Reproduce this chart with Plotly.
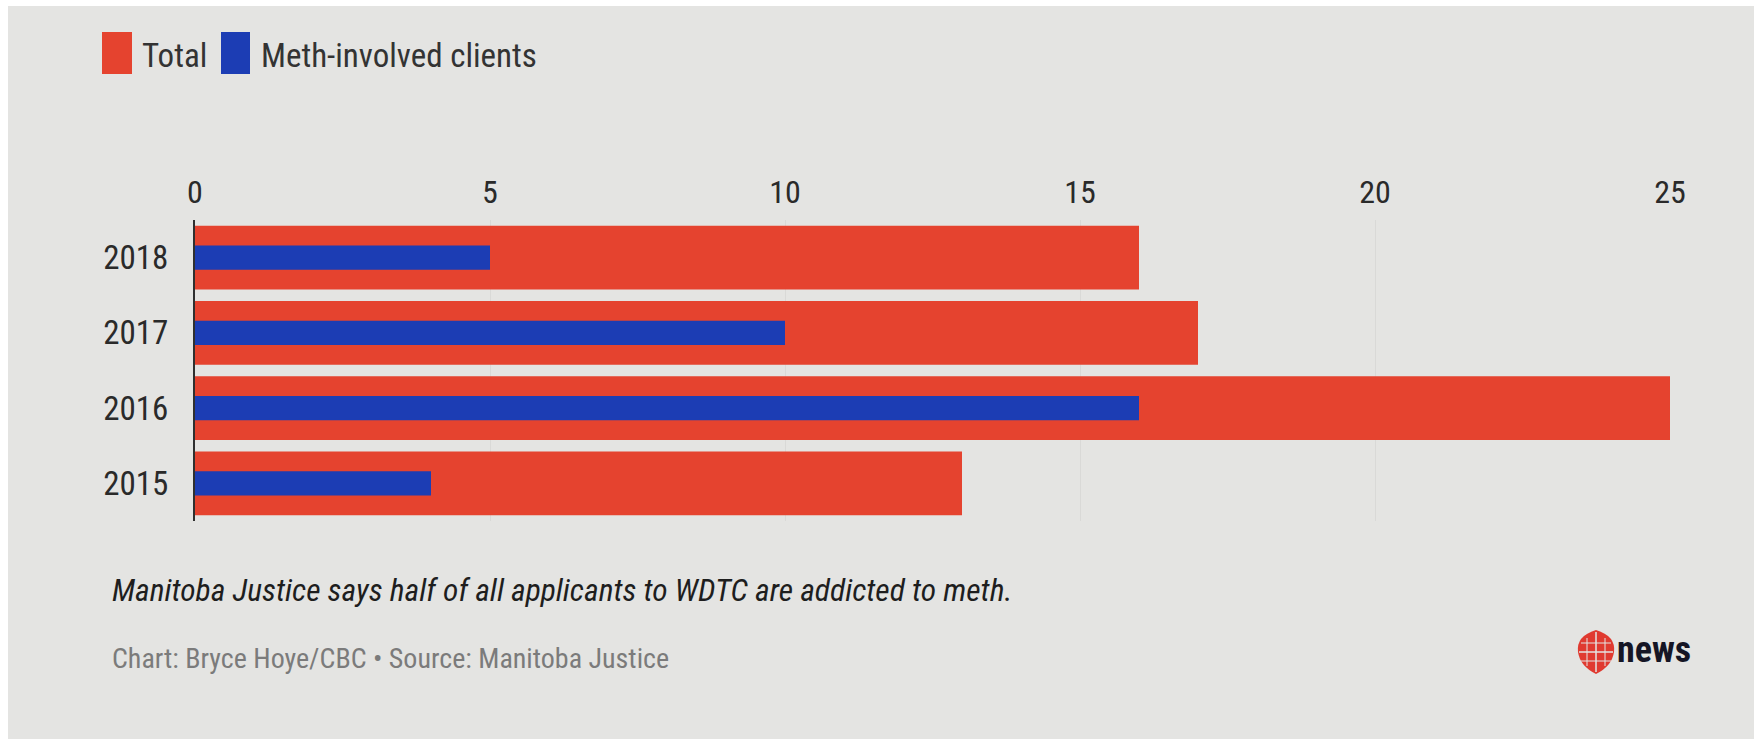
import plotly.graph_objects as go

# ---- data ----
years = ["2015", "2016", "2017", "2018"]
total = [13, 25, 17, 16]
meth = [4, 16, 10, 5]
series_names = ["Total", "Meth-involved clients"]
x_ticks = [0, 5, 10, 15, 20, 25]
caption = "Manitoba Justice says half of all applicants to WDTC are addicted to meth."
source = "Chart: Bryce Hoye/CBC \u2022 Source: Manitoba Justice"

# ---- style ----
W, H = 1754, 739
L, R, T, B = 195, 84, 220, 218
PW, PH = W - L - R, H - T - B
RED, BLUE = "#e5432f", "#1c3db4"
BG = "#e4e4e2"
FONT = "Liberation Sans Narrow, Roboto Condensed, DejaVu Sans Condensed, Liberation Sans, sans-serif"


def px(x):
    return (x - L) / PW


def py(y):
    return (H - B - y) / PH


fig = go.Figure()
fig.add_trace(go.Bar(y=years, x=total, orientation="h", name=series_names[0],
                     marker=dict(color=RED, line=dict(width=0)), width=0.85))
fig.add_trace(go.Bar(y=years, x=meth, orientation="h", name=series_names[1],
                     marker=dict(color=BLUE, line=dict(width=0)), width=0.32))

gx0, gx1, gy0, gy1 = 1578, 1614, 630, 674
gcx, gcy = (gx0 + gx1) / 2, (gy0 + gy1) / 2
gem_path = (f"M {px(gcx)},{py(gy0)} "
            f"Q {px(gx1 + 2)},{py(gy0 + 6)} {px(gx1)},{py(gcy)} "
            f"Q {px(gx1 - 2)},{py(gy1 - 8)} {px(gcx)},{py(gy1)} "
            f"Q {px(gx0 + 2)},{py(gy1 - 8)} {px(gx0)},{py(gcy)} "
            f"Q {px(gx0 - 2)},{py(gy0 + 6)} {px(gcx)},{py(gy0)} Z")

shapes = [
    # white photo border strips
    dict(type="rect", xref="paper", yref="paper", x0=px(0), x1=px(W), y0=py(0), y1=py(6),
         fillcolor="white", line=dict(width=0), layer="above"),
    dict(type="rect", xref="paper", yref="paper", x0=px(0), x1=px(8), y0=py(0), y1=py(H),
         fillcolor="white", line=dict(width=0), layer="above"),
    # legend swatches
    dict(type="rect", xref="paper", yref="paper", x0=px(102), x1=px(132), y0=py(74), y1=py(32),
         fillcolor=RED, line=dict(width=0)),
    dict(type="rect", xref="paper", yref="paper", x0=px(221), x1=px(250), y0=py(74), y1=py(32),
         fillcolor=BLUE, line=dict(width=0)),
    # CBC gem (approximation)
    dict(type="path", xref="paper", yref="paper", path=gem_path,
         fillcolor="#e03a30", line=dict(width=0)),
    dict(type="line", xref="paper", yref="paper", x0=px(gcx), x1=px(gcx), y0=py(gy1 - 2), y1=py(gy0 + 2),
         line=dict(color=BG, width=1.5)),
    dict(type="line", xref="paper", yref="paper", x0=px(gx0 + 1), x1=px(gx1 - 1), y0=py(gcy), y1=py(gcy),
         line=dict(color=BG, width=1.5)),
    dict(type="line", xref="paper", yref="paper", x0=px(gx0 + 3), x1=px(gx1 - 3), y0=py(gcy - 9), y1=py(gcy - 9),
         line=dict(color=BG, width=1)),
    dict(type="line", xref="paper", yref="paper", x0=px(gx0 + 3), x1=px(gx1 - 3), y0=py(gcy + 9), y1=py(gcy + 9),
         line=dict(color=BG, width=1)),
    dict(type="line", xref="paper", yref="paper", x0=px(gcx - 9), x1=px(gcx - 9), y0=py(gy1 - 8), y1=py(gy0 + 8),
         line=dict(color=BG, width=1)),
    dict(type="line", xref="paper", yref="paper", x0=px(gcx + 9), x1=px(gcx + 9), y0=py(gy1 - 8), y1=py(gy0 + 8),
         line=dict(color=BG, width=1)),
]

annotations = [
    dict(text=series_names[0], x=px(140), y=py(55), xref="paper", yref="paper",
         xanchor="left", yanchor="middle", showarrow=False,
         font=dict(family=FONT, size=33, color="#333333")),
    dict(text=series_names[1], x=px(259), y=py(55), xref="paper", yref="paper",
         xanchor="left", yanchor="middle", showarrow=False,
         font=dict(family=FONT, size=33, color="#333333")),
    dict(text="<i>" + caption + "</i>", x=px(110), y=py(590), xref="paper", yref="paper",
         xanchor="left", yanchor="middle", showarrow=False,
         font=dict(family=FONT, size=31.5, color="#1e1e1e")),
    dict(text=source, x=px(110), y=py(658), xref="paper", yref="paper",
         xanchor="left", yanchor="middle", showarrow=False,
         font=dict(family=FONT, size=28, color="#7b7b7b")),
    dict(text="<b>news</b>", x=px(1615), y=py(650), xref="paper", yref="paper",
         xanchor="left", yanchor="middle", showarrow=False,
         font=dict(family=FONT, size=36, color="#151525")),
]

fig.update_layout(
    width=W, height=H,
    margin=dict(l=L, r=R, t=T, b=B, pad=0),
    paper_bgcolor=BG, plot_bgcolor=BG,
    barmode="overlay", showlegend=False,
    shapes=shapes, annotations=annotations,
    xaxis=dict(side="top", range=[0, 25], tickvals=x_ticks, showgrid=True,
               gridcolor="#d9d9d7", gridwidth=1, zeroline=False, showline=False,
               ticks="", ticklabelstandoff=10,
               tickfont=dict(family=FONT, size=32, color="#2a2a2a")),
    yaxis=dict(type="category", categoryorder="array", categoryarray=years,
               showgrid=False, zeroline=False, showline=True, linecolor="#2f2f2f",
               linewidth=2, ticks="", ticklabelstandoff=18,
               tickfont=dict(family=FONT, size=33, color="#2a2a2a")),
)

fig.write_html("out.html")
